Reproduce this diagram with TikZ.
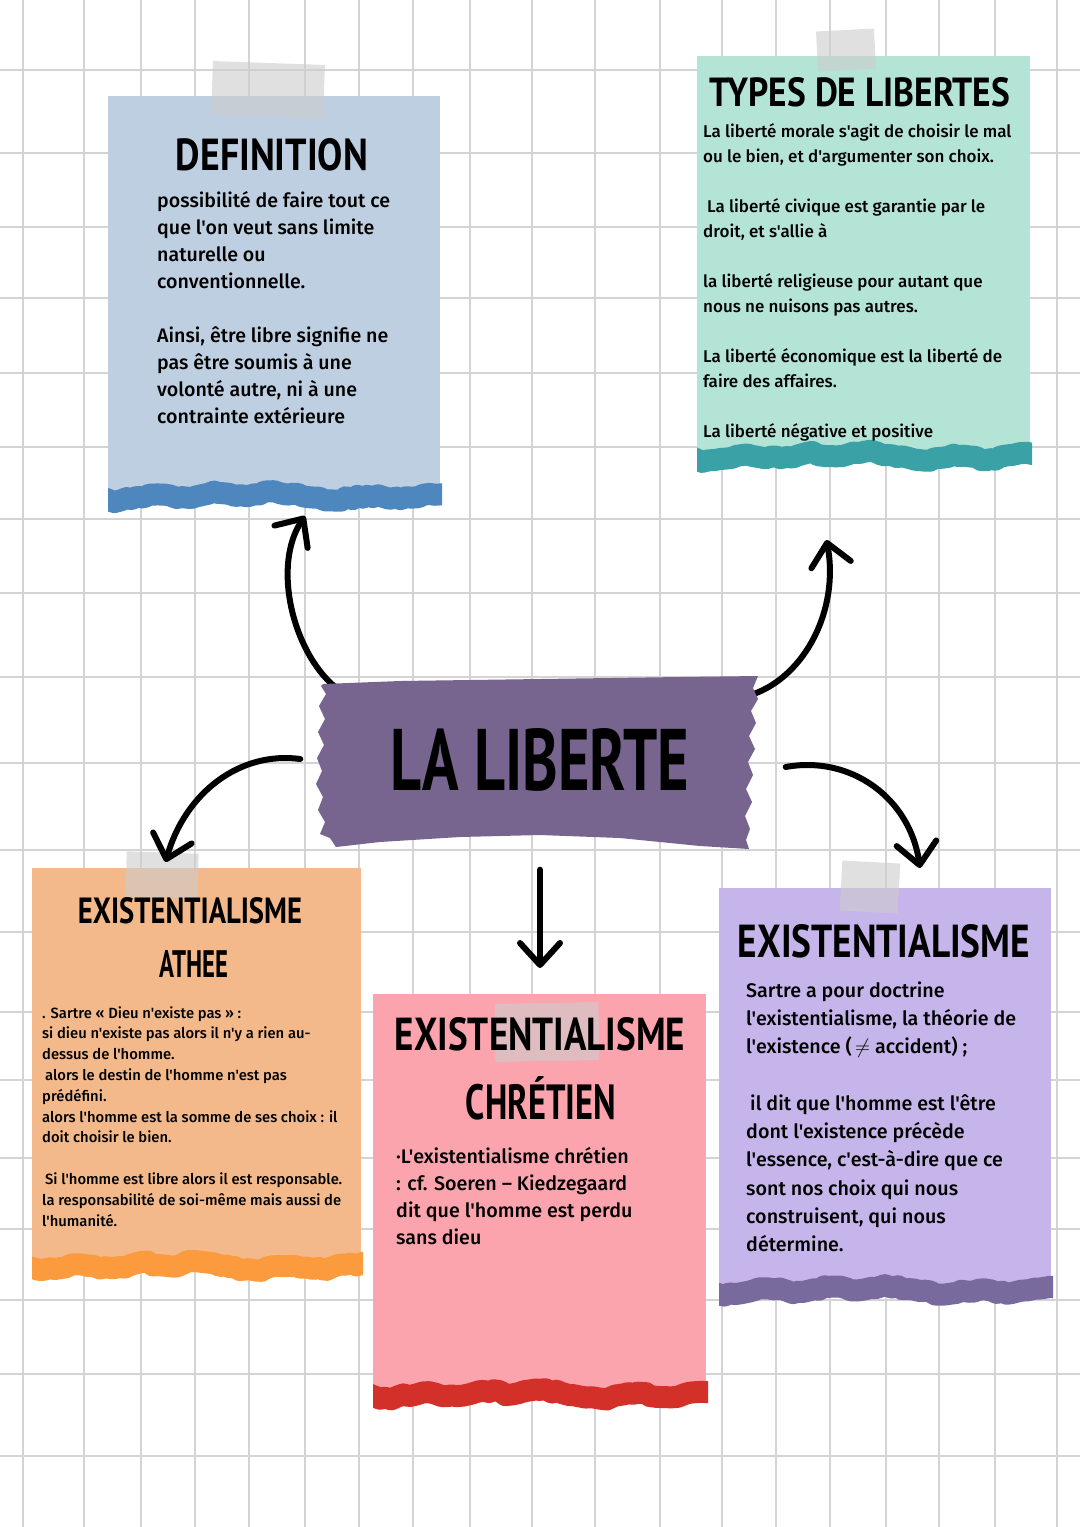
\documentclass[tikz,border=0pt]{standalone}
\usepackage{fontspec}
\usepackage{graphicx}
\usetikzlibrary{arrows.meta,decorations.pathmorphing,calc}
\setmainfont{Fira Sans}
\newfontfamily\bodyfont{Fira Sans Medium}
\newfontfamily\titlefont{PT Sans}
\definecolor{gridgray}{HTML}{D4D4D4}
\definecolor{defpaper}{HTML}{BDCFE1}
\definecolor{defband}{HTML}{4E86BE}
\definecolor{typpaper}{HTML}{B3E4D6}
\definecolor{typband}{HTML}{3AA2A6}
\definecolor{ctrpurple}{HTML}{77648F}
\definecolor{athpaper}{HTML}{F4B98B}
\definecolor{athband}{HTML}{FC9A3E}
\definecolor{chrpaper}{HTML}{FCA4AD}
\definecolor{chrband}{HTML}{D4302A}
\definecolor{exipaper}{HTML}{C6B5EA}
\definecolor{exiband}{HTML}{796A9E}
\newcommand\ttl[3]{\resizebox{#1pt}{#2pt}{\titlefont\bfseries #3}}
\newcommand\tornband[4]{%
  \begin{scope}
  \clip (#1,{#3-40}) rectangle ({#2+2},{#3+40});
  \draw[#4, line width=22pt, line join=round, decorate,
        decoration={random steps, segment length=6pt, amplitude=1.6pt}]
    plot[smooth, tension=0.6] coordinates {
      ({#1-6},{#3+5}) ({#1+0.07*(#2-#1)},{#3+1}) ({#1+0.15*(#2-#1)},{#3-3})
      ({#1+0.25*(#2-#1)},{#3}) ({#1+0.33*(#2-#1)},{#3-5}) ({#1+0.42*(#2-#1)},{#3-2})
      ({#1+0.5*(#2-#1)},{#3-6}) ({#1+0.6*(#2-#1)},{#3-1}) ({#1+0.68*(#2-#1)},{#3+2})
      ({#1+0.78*(#2-#1)},{#3-2}) ({#1+0.88*(#2-#1)},{#3+1}) ({#1+0.95*(#2-#1)},{#3-3})
      ({#2+6},{#3-4})};
  \end{scope}}
\tikzset{
  gridline/.style={draw=gridgray, line width=1.1pt},
  paper/.style={anchor=north west, inner sep=0pt, outer sep=0pt},
  tape/.style={fill=black!20, fill opacity=0.6, inner sep=0pt},
  ttlnode/.style={anchor=base, inner sep=0pt},
  bodytxt/.style={anchor=base west, inner sep=0pt},
  conn/.style={line width=6pt, line cap=round, -{Straight Barb[length=22pt,width=40pt,round]}},
}
\begin{document}
\begin{tikzpicture}[x=1pt,y=-1pt]
\pgfmathsetseed{7}
\useasboundingbox (0,0) rectangle (1080,1527);
\fill[white] (0,0) rectangle (1080,1527);
% grid
\foreach \gx in {23,84,141,195,249,305,359,413,470,532,595,660,722,776,830,886,939,995,1057}
  \draw[gridline] (\gx,0) -- (\gx,1527);
\foreach \gy in {70,153,227,298,373,447,519,593,677,763,850,932,1012,1080,1158,1229,1300,1374,1456}
  \draw[gridline] (0,\gy) -- (1080,\gy);

% papers
\node[paper, fill=defpaper, minimum width=332pt, minimum height=402pt] (def) at (108,96) {};
\node[paper, fill=typpaper, minimum width=333pt, minimum height=402pt] (typ) at (697,56) {};
\node[paper, fill=athpaper, minimum width=329pt, minimum height=400pt] (ath) at (32,868) {};
\node[paper, fill=chrpaper, minimum width=333pt, minimum height=402pt] (chr) at (373,994) {};
\node[paper, fill=exipaper, minimum width=332pt, minimum height=404pt] (exi) at (719,888) {};

% torn bottom bands
\tornband{108}{440}{498}{defband}
\tornband{697}{1030}{458}{typband}
\tornband{32}{361}{1268}{athband}
\tornband{373}{706}{1396}{chrband}
\tornband{719}{1051}{1292}{exiband}

% tapes
\node[tape, minimum width=112pt, minimum height=54pt, rotate=-2] (tdef) at (268,90) {};
\node[tape, minimum width=58pt, minimum height=40pt, rotate=3] (ttyp) at (846,50) {};
\node[tape, minimum width=72pt, minimum height=45pt, rotate=-2] (tath) at (162,875) {};
\node[tape, minimum width=104pt, minimum height=58pt, rotate=1] (tchr) at (547,1032) {};
\node[tape, minimum width=58pt, minimum height=50pt, rotate=-3] (texi) at (870,887) {};

% titles
\node[ttlnode] (tdefinition) at (272,170) {\ttl{192}{32}{DEFINITION}};
\node[ttlnode] (ttypes) at (860,106) {\ttl{300}{29}{TYPES DE LIBERTES}};
\node[ttlnode] (tath1) at (190,923) {\ttl{224}{26}{EXISTENTIALISME}};
\node[ttlnode] (tath2) at (194,977) {\ttl{69}{27}{ATHEE}};
\node[ttlnode] (tchr1) at (540,1050) {\ttl{290}{33}{EXISTENTIALISME}};
\node[ttlnode] (tchr2) at (541,1119) {\ttl{150}{43}{CHRÉTIEN}};
\node[ttlnode] (texi1) at (884,957) {\ttl{292}{33}{EXISTENTIALISME}};

% body texts
\node[bodytxt] (bdef) at (157,207) {\bodyfont\fontsize{19.6}{27}\selectfont
\begin{tabular}[t]{@{}l@{}}
possibilité de faire tout ce\\
que l'on veut sans limite\\
naturelle ou\\
conventionnelle.\\
\\
Ainsi, être libre signifie ne\\
pas être soumis à une\\
volonté autre, ni à une\\
contrainte extérieure
\end{tabular}};

\node[bodytxt] (btyp) at (703,137) {\bodyfont\fontsize{17}{25}\selectfont
\begin{tabular}[t]{@{}l@{}}
La liberté morale s'agit de choisir le mal\\
ou le bien, et d'argumenter son choix.\\
\\
\hspace{4pt}La liberté civique est garantie par le\\
droit, et s'allie à\\
\\
la liberté religieuse pour autant que\\
nous ne nuisons pas autres.\\
\\
La liberté économique est la liberté de\\
faire des affaires.\\
\\
La liberté négative et positive
\end{tabular}};

\node[bodytxt] (bath) at (42,1018) {\bodyfont\fontsize{14.8}{20.8}\selectfont
\begin{tabular}[t]{@{}l@{}}
. Sartre « Dieu n'existe pas » :\\
si dieu n'existe pas alors il n'y a rien au-\\
dessus de l'homme.\\
\hspace{3pt}alors le destin de l'homme n'est pas\\
prédéfini.\\
alors l'homme est la somme de ses choix : il\\
doit choisir le bien.\\
\\
\hspace{3pt}Si l'homme est libre alors il est responsable.\\
la responsabilité de soi-même mais aussi de\\
l'humanité.
\end{tabular}};

\node[bodytxt] (bchr) at (396,1163) {\bodyfont\fontsize{19.7}{27}\selectfont
\begin{tabular}[t]{@{}l@{}}
·L'existentialisme chrétien\\
: cf. Soeren – Kiedzegaard\\
dit que l'homme est perdu\\
sans dieu
\end{tabular}};

\node[bodytxt] (bexi) at (746,997) {\bodyfont\fontsize{19.7}{28.3}\selectfont
\begin{tabular}[t]{@{}l@{}}
Sartre a pour doctrine\\
l'existentialisme, la théorie de\\
l'existence (\,\ensuremath{\neq} accident) ;\\
\\
\hspace{4pt}il dit que l'homme est l'être\\
dont l'existence précède\\
l'essence, c'est-à-dire que ce\\
sont nos choix qui nous\\
construisent, qui nous\\
détermine.
\end{tabular}};

% centre node (frame of the central tape)
\node[inner sep=0pt, minimum width=435pt, minimum height=165pt] (ctr) at (540,759) {};

% connectors
\coordinate (a1s) at ([shift={(12,10)}]ctr.north west);
\coordinate (a1e) at ([shift={(31,18)}]def.south);
\coordinate (a2s) at ([shift={(-5,18)}]ctr.north east);
\coordinate (a2e) at ([shift={(-37,82)}]typ.south);
\coordinate (a3s) at ([shift={(-22,0)}]ctr.west);
\coordinate (a3e) at ([shift={(-31,-6)}]ath.north);
\coordinate (a4s) at ([shift={(28,8)}]ctr.east);
\coordinate (a4e) at ([shift={(35,-20)}]exi.north);
\coordinate (a5s) at ([shift={(0,28)}]ctr.south);
\coordinate (a5e) at ([shift={(0.5,-26)}]chr.north);
\draw[conn] (a1s) .. controls ($(a1s)+(-42,-36)$) and ($(a1e)+(-33,49)$) .. (a1e);
\draw[conn] (a2s) .. controls ($(a2s)+(52,-18)$) and ($(a2e)+(13,70)$) .. (a2e);
\draw[conn] (a3s) .. controls ($(a3s)+(-60,-8)$) and ($(a3e)+(20,-70)$) .. (a3e);
\draw[conn] (a4s) .. controls ($(a4s)+(65,-12)$) and ($(a4e)+(-10,-70)$) .. (a4e);
\draw[conn] (a5s) -- (a5e);

% centre torn tape
\fill[ctrpurple] (323,684) -- (400,681) -- (540,679) -- (680,677) -- (758,676)
  -- (753,688) -- (758,699) -- (751,711) -- (756,723) -- (749,736) -- (755,749)
  -- (748,762) -- (753,775) -- (746,789) -- (752,802) -- (745,816) -- (750,829)
  -- (746,840) -- (749,849) -- (700,846) -- (620,838) -- (540,835) -- (460,837)
  -- (380,842) -- (336,847) -- (330,838) -- (320,834) -- (325,822) -- (318,810)
  -- (323,797) -- (316,784) -- (322,771) -- (317,758) -- (324,745) -- (318,732)
  -- (325,719) -- (319,706) -- (326,694) -- (321,686) -- cycle;
\node[ttlnode] (ctrtext) at (540,790) {\ttl{298}{62}{LA LIBERTE}};
\end{tikzpicture}
\end{document}
